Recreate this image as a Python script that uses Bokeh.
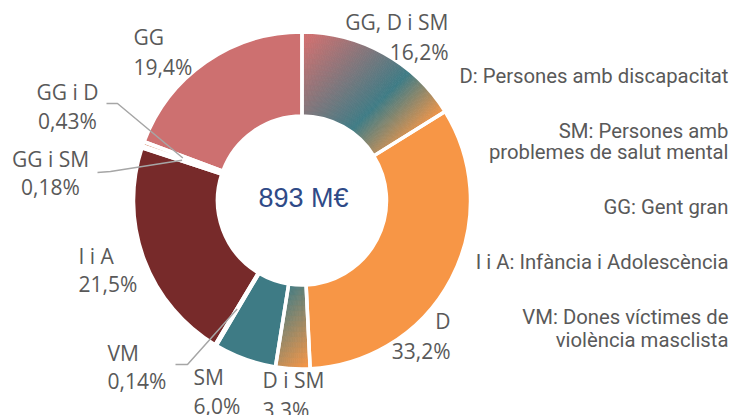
import numpy as np
from bokeh.plotting import figure
from bokeh.models import Range1d
from bokeh.embed import file_html
from bokeh.resources import INLINE
from bokeh.core.properties import value

# ---------------- data ----------------
categories = ["GG, D i SM", "D", "D i SM", "SM", "VM", "I i A", "GG i SM", "GG i D", "GG"]
shares = [16.2, 33.2, 3.3, 6.0, 0.14, 21.5, 0.18, 0.43, 19.4]
share_labels = ["16,2%", "33,2%", "3.3%", "6,0%", "0,14%", "21,5%", "0,18%", "0,43%", "19,4%"]
total_label = "893 M€"
legend_lines = ["D: Persones amb discapacitat",
                "SM: Persones amb", "problemes de salut mental",
                "GG: Gent gran",
                "I i A: Infància i Adolescència",
                "VM: Dones víctimes de", "violència masclista"]

# ---------------- styles / layout ----------------
PINK, ORANGE, TEAL, DRED = "#CD7070", "#F79646", "#3E7B85", "#772A2A"
fills = {
    "GG, D i SM": ("grad", [(0.05, PINK), (0.66, TEAL), (1.0, ORANGE)], 334, 555),
    "D": ("solid", ORANGE),
    "D i SM": ("grad", [(0.0, TEAL), (1.0, ORANGE)], 571, 675),
    "SM": ("solid", TEAL),
    "VM": ("solid", "#7F5A8A"),
    "I i A": ("solid", DRED),
    "GG i SM": ("solid", "#A07070"),
    "GG i D": ("solid", "#D08060"),
    "GG": ("solid", PINK),
}
# label placement (screen px): x, align, baseline line1, baseline line2
label_pos = {
    "GG, D i SM": (448, "right", 28, 58),
    "D": (450, "right", 327, 357),
    "D i SM": (262, "left", 386, 416),
    "SM": (193, "left", 383, 412),
    "VM": (107, "left", 359, 387),
    "I i A": (78, "left", 262, 290),
    "GG i SM": (50, "center", 165, 193),
    "GG i D": (67, "center", 98, 127),
    "GG": (133, "left", 43, 73),
}
leaders = {  # label-side start and elbow (screen px)
    "GG i D": ((106, 103), (117, 103)),
    "GG i SM": ((97, 172), (110, 171)),
    "VM": ((175, 364), (187, 364)),
}
legend_base = [82, 137, 158, 213, 268, 323, 346]

LBL_FS, LEG_FS, TOT_FS = 21, 20.3, 27

W, H = 731, 415
def sy(Y):
    return H - Y

p = figure(width=W, height=H, x_range=Range1d(0, W), y_range=Range1d(0, H),
           output_backend="svg", toolbar_location=None, min_border=0,
           x_axis_type=None, y_axis_type=None)
p.grid.visible = False
p.outline_line_color = None
p.background_fill_color = "white"
p.border_fill_color = "white"

cx, cy = 301.5, sy(200)
R_IN, R_OUT = 84.5, 168.5

def hex2rgb(h):
    h = h.lstrip("#")
    return np.array([int(h[i:i + 2], 16) for i in (0, 2, 4)], dtype=float)

def grad_color(stops, t):
    t = min(max(t, stops[0][0]), stops[-1][0])
    for (t0, c0), (t1, c1) in zip(stops[:-1], stops[1:]):
        if t <= t1:
            f = 0 if t1 == t0 else (t - t0) / (t1 - t0)
            c = hex2rgb(c0) * (1 - f) + hex2rgb(c1) * f
            return "#%02x%02x%02x" % tuple(int(round(v)) for v in c)
    return stops[-1][1]

vals = np.array(shares, dtype=float)
frac = vals / vals.sum()
cum = np.concatenate([[0], np.cumsum(frac)]) * 2 * np.pi  # clockwise from top

starts, ends = [], []
for i, cat in enumerate(categories):
    a0, a1 = cum[i], cum[i + 1]
    s_ang, e_ang = np.pi / 2 - a1, np.pi / 2 - a0
    starts.append(s_ang); ends.append(e_ang)
    f = fills[cat]
    if f[0] == "solid":
        p.annular_wedge(x=cx, y=cy, inner_radius=R_IN, outer_radius=R_OUT,
                        start_angle=s_ang, end_angle=e_ang,
                        fill_color=f[1], line_color=f[1], line_width=0.5)
    else:
        stops, u0, u1 = f[1], f[2], f[3]
        nA = max(10, int(np.degrees(e_ang - s_ang) * 1.5))
        nR = 16
        angs = np.linspace(s_ang, e_ang, nA + 1)
        rads = np.linspace(R_IN, R_OUT, nR + 1)
        xs, ys, ir, orr, sa, ea, cols = [], [], [], [], [], [], []
        for j in range(nA):
            for k in range(nR):
                am = 0.5 * (angs[j] + angs[j + 1]); rm = 0.5 * (rads[k] + rads[k + 1])
                X = cx + rm * np.cos(am); Y = H - (cy + rm * np.sin(am))
                t = (X + Y - u0) / (u1 - u0)
                cols.append(grad_color(stops, t))
                ir.append(rads[k]); orr.append(rads[k + 1]); sa.append(angs[j]); ea.append(angs[j + 1])
                xs.append(cx); ys.append(cy)
        p.annular_wedge(x=xs, y=ys, inner_radius=ir, outer_radius=orr,
                        start_angle=sa, end_angle=ea,
                        fill_color=cols, line_color=cols, line_width=0.8)

# white separators
p.annular_wedge(x=[cx] * len(categories), y=[cy] * len(categories), inner_radius=R_IN, outer_radius=R_OUT,
                start_angle=starts, end_angle=ends, fill_color=None, line_color="white", line_width=3.5)

# leader lines
for cat, (st, el) in leaders.items():
    i = categories.index(cat)
    am = 0.5 * (starts[i] + ends[i]); rm = 0.5 * (R_IN + R_OUT)
    ex, ey = cx + rm * np.cos(am), cy + rm * np.sin(am)
    p.line(x=[st[0], el[0], ex], y=[sy(st[1]), sy(el[1]), ey], line_color="#A6A6A6", line_width=1.5)

# slice labels (baseline correction for svg text placement)
TXT = "#595959"
for i, cat in enumerate(categories):
    x, al, b1, b2 = label_pos[cat]
    off = 0.33 * LBL_FS
    p.text(x=[x, x], y=[sy(b1 - off), sy(b2 - off)], text=[cat, share_labels[i]],
           text_font=value("Open Sans"), text_font_size=f"{LBL_FS}px", text_color=TXT,
           text_align=al, text_baseline="alphabetic")

# centre total
p.text(x=[303], y=[sy(208 - 0.4 * TOT_FS)], text=[total_label], text_font=value("Liberation Sans"),
       text_font_size=f"{TOT_FS}px", text_color="#2F4A87", text_align="center", text_baseline="alphabetic")

# legend text block
p.text(x=[728] * len(legend_lines), y=[sy(b - 0.3 * LEG_FS) for b in legend_base], text=legend_lines,
       text_font=value("Roboto"), text_font_size=f"{LEG_FS}px", text_color=TXT,
       text_align="right", text_baseline="alphabetic")

open("out.html", "w").write(file_html(p, INLINE))
